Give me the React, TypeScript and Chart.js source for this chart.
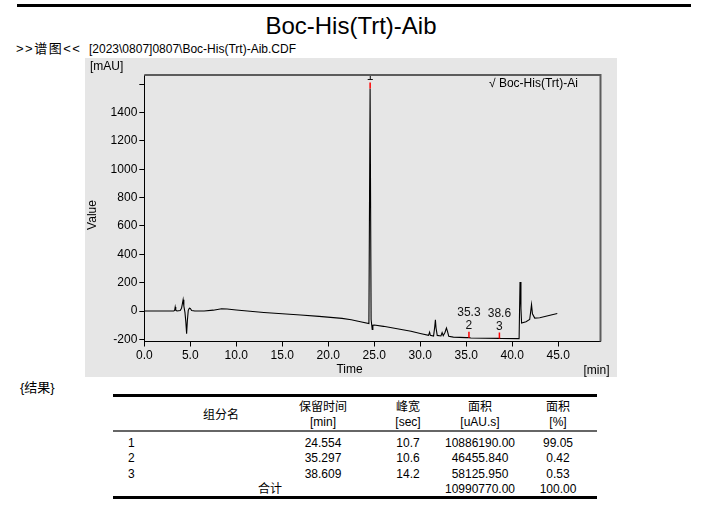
import React, { useEffect, useRef } from "react";
import { Chart, registerables } from "chart.js";

Chart.register(...registerables);

const FONT = "'Liberation Sans', 'Noto Sans CJK SC', sans-serif";

// chromatogram trace (min, mAU)
const traceTimes = [
  0, 3.2, 3.3, 3.36, 3.42, 3.55, 3.9, 4.05, 4.15, 4.22, 4.3, 4.42, 4.52, 4.6, 4.68, 4.78, 4.9, 5.0, 5.15, 5.5,
  6.5, 7.5, 8.4, 9.0, 10.0, 11.5, 13.0, 15.0, 17.0, 19.0, 21.5, 22.5, 23.5, 24.42, 24.55, 24.66,
  24.78, 24.85, 25.0, 26.0, 27.8, 29.0, 30.0, 30.9, 31.02, 31.1, 31.45, 31.58, 31.65, 31.72,
  31.85, 32.25, 32.38, 32.5, 32.7, 32.85, 32.95, 33.1, 33.6, 35.0, 35.3, 35.5, 38.6, 38.8, 40.75, 40.85,
  40.95, 41.02, 41.5, 41.9, 42.0, 42.1, 42.2, 42.45, 43.0, 44.0, 44.9,
];
const traceValues = [
  0, 0, 4, 28, 6, 0, 4, 20, 55, 80, 35, -10, -80, -160, -70, 5, 20, 18, 4, 0,
  0, 6, 16, 14, 7, -2, -10, -19, -28, -38, -52, -62, -76, -89, 1570, -60,
  -130, -100, -99, -108, -128, -143, -158, -172, -150, -172, -177, -110, -62, -120,
  -172, -176, -152, -174, -150, -120, -140, -178, -184, -188, -188, -190, -193, -194, -195, 205,
  20, -85, -75, -60, -10, 45, -20, -50, -48, -32, -18,
];

// peak annotations
const peakNumbers = ["1", "2", "3"];
const peakTimes = [24.554, 35.297, 38.609];
const peakApex = [1570, -188, -193];
const peakRtLabels = ["24.6", "35.3", "38.6"];

// axes
const xMin = 0;
const xMax = 49.6;
const xStep = 5;
const yMin = -215;
const yMax = 1665;
const yStep = 200;
const yUnlabeledTicks = [1600];

// results table
const tableNos = ["1", "2", "3"];
const tableRt = ["24.554", "35.297", "38.609"];
const tableWidth = ["10.7", "10.6", "14.2"];
const tableArea = ["10886190.00", "46455.840", "58125.950"];
const tablePct = ["99.05", "0.42", "0.53"];
const totalLabel = "合计";
const totalArea = "10990770.00";
const totalPct = "100.00";

const annotPlugin = {
  id: "annot",
  afterDraw(chart: any) {
    const { ctx, chartArea: a, scales } = chart;
    const x = scales.x;
    const y = scales.y;
    ctx.save();
    ctx.strokeStyle = "#5c5c5c";
    ctx.lineWidth = 2;
    ctx.beginPath();
    ctx.moveTo(a.left, a.top);
    ctx.lineTo(a.right, a.top);
    ctx.lineTo(a.right, a.bottom);
    ctx.stroke();

    ctx.save();
    ctx.beginPath();
    ctx.rect(a.left, a.top + 1, a.right - a.left, a.bottom - a.top);
    ctx.clip();
    ctx.font = `12px ${FONT}`;
    ctx.textAlign = "center";
    ctx.textBaseline = "middle";
    peakTimes.forEach((t, i) => {
      const px = x.getPixelForValue(t);
      const py = y.getPixelForValue(peakApex[i]);
      ctx.strokeStyle = "#ff0000";
      ctx.lineWidth = 1.5;
      ctx.beginPath();
      ctx.moveTo(px, py);
      ctx.lineTo(px, py - 6);
      ctx.stroke();
      ctx.fillStyle = "#111";
      ctx.fillText(peakNumbers[i], px, py - 12);
      ctx.fillText(peakRtLabels[i], px, py - 25);
    });
    ctx.restore();

    ctx.fillStyle = "#000";
    ctx.font = `12px ${FONT}`;
    ctx.textAlign = "left";
    ctx.textBaseline = "middle";
    ctx.fillText("√ Boc-His(Trt)-Ai", 404, 26);

    ctx.fillText("[mAU]", 5, 9);
    ctx.textAlign = "center";
    ctx.fillText("Time", 264.5, 312);
    ctx.fillText("[min]", 511.5, 313);
    ctx.save();
    ctx.translate(8, 157);
    ctx.rotate(-Math.PI / 2);
    ctx.fillText("Value", 0, 0);
    ctx.restore();
    ctx.restore();
  },
};

function ChromChart() {
  const ref = useRef<HTMLCanvasElement | null>(null);
  useEffect(() => {
    if (!ref.current) return;
    const points = traceTimes.map((t, i) => ({ x: t, y: traceValues[i] }));
    const chart = new Chart(ref.current, {
      type: "scatter",
      data: {
        datasets: [
          {
            data: points,
            showLine: true,
            borderColor: "#000",
            borderWidth: 1.1,
            pointRadius: 0,
            tension: 0,
          } as any,
        ],
      },
      options: {
        animation: false,
        responsive: false,
        events: [],
        layout: { padding: { left: 0, top: 17, right: 16.5, bottom: 0 } },
        plugins: { legend: { display: false }, tooltip: { enabled: false } },
        scales: {
          x: {
            type: "linear",
            min: xMin,
            max: xMax,
            afterFit: (s: any) => {
              s.height = 35.5;
            },
            ticks: {
              stepSize: xStep,
              includeBounds: false,
              color: "#000",
              padding: 2,
              maxRotation: 0,
              autoSkip: false,
              font: { family: FONT, size: 12 },
              callback: (v: any) => Number(v).toFixed(1),
            },
            grid: { drawOnChartArea: false, drawTicks: true, tickLength: 5, color: "#000" },
            border: { display: true, color: "#000", width: 1 },
          },
          y: {
            type: "linear",
            min: yMin,
            max: yMax,
            afterFit: (s: any) => {
              s.width = 59.3;
            },
            ticks: {
              stepSize: yStep,
              includeBounds: false,
              color: "#000",
              padding: 2,
              autoSkip: false,
              font: { family: FONT, size: 12 },
              callback: (v: any) => (yUnlabeledTicks.includes(Number(v)) ? "" : String(v)),
            },
            grid: { drawOnChartArea: false, drawTicks: true, tickLength: 5, color: "#000" },
            border: { display: true, color: "#000", width: 1 },
          },
        },
      } as any,
      plugins: [annotPlugin],
    });
    return () => chart.destroy();
  }, []);
  return <canvas ref={ref} width={532} height={319} style={{ display: "block" }} />;
}

function Cell(props: { cx: number; cy: number; children: React.ReactNode; align?: "left" | "center" }) {
  const w = 140;
  const left = props.align === "left" ? props.cx : props.cx - w / 2;
  return (
    <div
      style={{
        position: "absolute",
        left,
        top: props.cy - 7,
        width: w,
        lineHeight: "14px",
        height: 14,
        textAlign: props.align === "left" ? "left" : "center",
        whiteSpace: "nowrap",
      }}
    >
      {props.children}
    </div>
  );
}

export default function App() {
  const colX = { no: 128, name: 221, rt: 323, wd: 408, area: 480, pct: 558 };
  const rowY = [442.5, 458, 474];
  return (
    <div
      style={{
        position: "absolute",
        left: 0,
        top: 0,
        width: 701,
        height: 528,
        background: "#fff",
        fontFamily: FONT,
        fontSize: 12,
        color: "#000",
        overflow: "hidden",
      }}
    >
      <div style={{ position: "absolute", left: 17, top: 4, width: 674, height: 3, background: "#000" }} />
      <div
        style={{
          position: "absolute",
          left: 151,
          top: 14,
          width: 400,
          textAlign: "center",
          fontSize: 24,
          lineHeight: "24px",
          whiteSpace: "nowrap",
        }}
      >
        Boc-His(Trt)-Aib
      </div>
      <div
        style={{
          position: "absolute",
          left: 16,
          top: 41.5,
          lineHeight: "14px",
          fontSize: 13,
          letterSpacing: 1.5,
          whiteSpace: "nowrap",
        }}
      >
        {">>谱图<<"}
      </div>
      <div style={{ position: "absolute", left: 89, top: 42, lineHeight: "14px", whiteSpace: "nowrap" }}>
        {"[2023\\0807]0807\\Boc-His(Trt)-Aib.CDF"}
      </div>
      <div style={{ position: "absolute", left: 85, top: 58, width: 532, height: 319, background: "#e6e6e6" }}>
        <ChromChart />
      </div>

      <div style={{ position: "absolute", left: 20, top: 381, lineHeight: "14px", fontSize: 13 }}>{"{结果}"}</div>

      <div style={{ position: "absolute", left: 113, top: 394, width: 484, height: 3, background: "#000" }} />
      <div style={{ position: "absolute", left: 113, top: 430, width: 484, height: 2, background: "#666" }} />
      <div style={{ position: "absolute", left: 113, top: 496, width: 484, height: 3, background: "#000" }} />

      <Cell cx={colX.name} cy={414.5}>组分名</Cell>
      <Cell cx={colX.rt} cy={407}>保留时间</Cell>
      <Cell cx={colX.rt} cy={421.5}>[min]</Cell>
      <Cell cx={colX.wd} cy={407}>峰宽</Cell>
      <Cell cx={colX.wd} cy={421.5}>[sec]</Cell>
      <Cell cx={colX.area} cy={407}>面积</Cell>
      <Cell cx={colX.area} cy={421.5}>[uAU.s]</Cell>
      <Cell cx={colX.pct} cy={407}>面积</Cell>
      <Cell cx={colX.pct} cy={421.5}>[%]</Cell>

      {tableNos.map((n, i) => (
        <React.Fragment key={n}>
          <Cell cx={colX.no} cy={rowY[i]} align="left">{n}</Cell>
          <Cell cx={colX.rt} cy={rowY[i]}>{tableRt[i]}</Cell>
          <Cell cx={colX.wd} cy={rowY[i]}>{tableWidth[i]}</Cell>
          <Cell cx={colX.area} cy={rowY[i]}>{tableArea[i]}</Cell>
          <Cell cx={colX.pct} cy={rowY[i]}>{tablePct[i]}</Cell>
        </React.Fragment>
      ))}
      <Cell cx={270} cy={489}>{totalLabel}</Cell>
      <Cell cx={colX.area} cy={489}>{totalArea}</Cell>
      <Cell cx={colX.pct} cy={489}>{totalPct}</Cell>
    </div>
  );
}
